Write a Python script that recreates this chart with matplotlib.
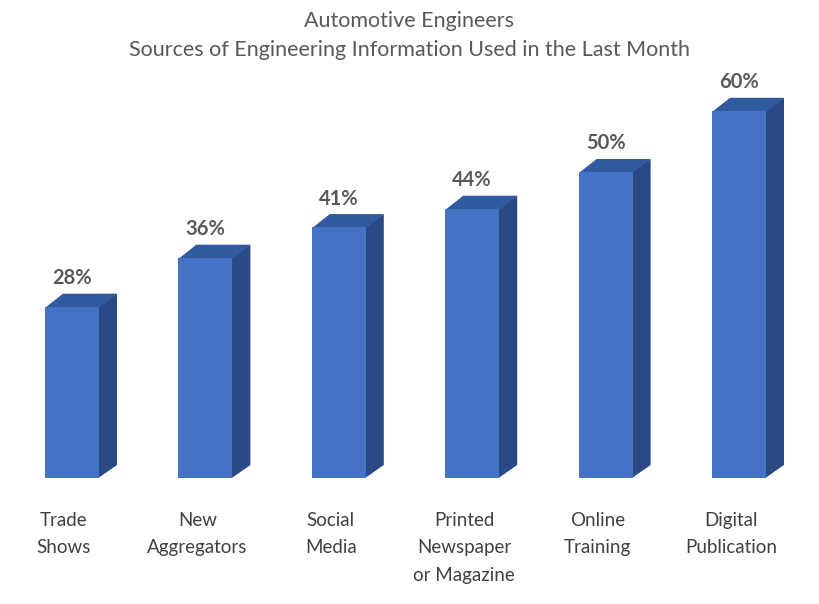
import matplotlib
matplotlib.use("Agg")
import matplotlib.pyplot as plt
from matplotlib.patches import Polygon

plt.rcParams['font.family'] = ['Lato', 'DejaVu Sans']

# data
categories = ["Trade\nShows", "New\nAggregators", "Social\nMedia",
              "Printed\nNewspaper\nor Magazine", "Online\nTraining", "Digital\nPublication"]
values = [28, 36, 41, 44, 50, 60]

front = '#4472C4'
side = '#2B4A85'
top = '#325A9E'

fig = plt.figure(figsize=(8.19, 6.04), dpi=100)
ax = fig.add_axes([0, 0, 1, 1])
ax.set_xlim(-72 / 133.4, (819 - 72) / 133.4)
ax.set_ylim(-126 / 6.12, (604 - 126) / 6.12)
ax.axis('off')

width = 0.405
dx = 18 / 133.4   # depth of the fake 3d
dy = 13 / 6.12

x = range(len(values))
ax.bar(x, values, width=width, color=front, linewidth=0, zorder=3)

for i, v in enumerate(values):
    l, r = i - width / 2, i + width / 2
    # side face
    ax.add_patch(Polygon([(r - 0.005, 0), (r + dx, dy), (r + dx, v + dy), (r - 0.005, v)],
                         closed=True, facecolor=side, edgecolor='none', zorder=2))
    # top face
    ax.add_patch(Polygon([(l, v - 0.2), (l + dx, v + dy), (r + dx, v + dy), (r, v - 0.2)],
                         closed=True, facecolor=top, edgecolor='none', zorder=2))
    ax.text(i, v + dy + 0.9, f"{v}%", ha='center', va='bottom',
            fontsize=14.5, fontweight='bold', color='#595959')
    ax.text(i - 0.06, -5.5, categories[i], ha='center', va='top',
            fontsize=13.5, color='#404040', linespacing=1.75)

fig.text(0.5, 1 - 21 / 604, "Automotive Engineers", ha='center', va='center',
         fontsize=15.5, color='#595959')
fig.text(0.5, 1 - 50 / 604, "Sources of Engineering Information Used in the Last Month",
         ha='center', va='center', fontsize=15.5, color='#595959')

fig.savefig("out.png", dpi=100)
